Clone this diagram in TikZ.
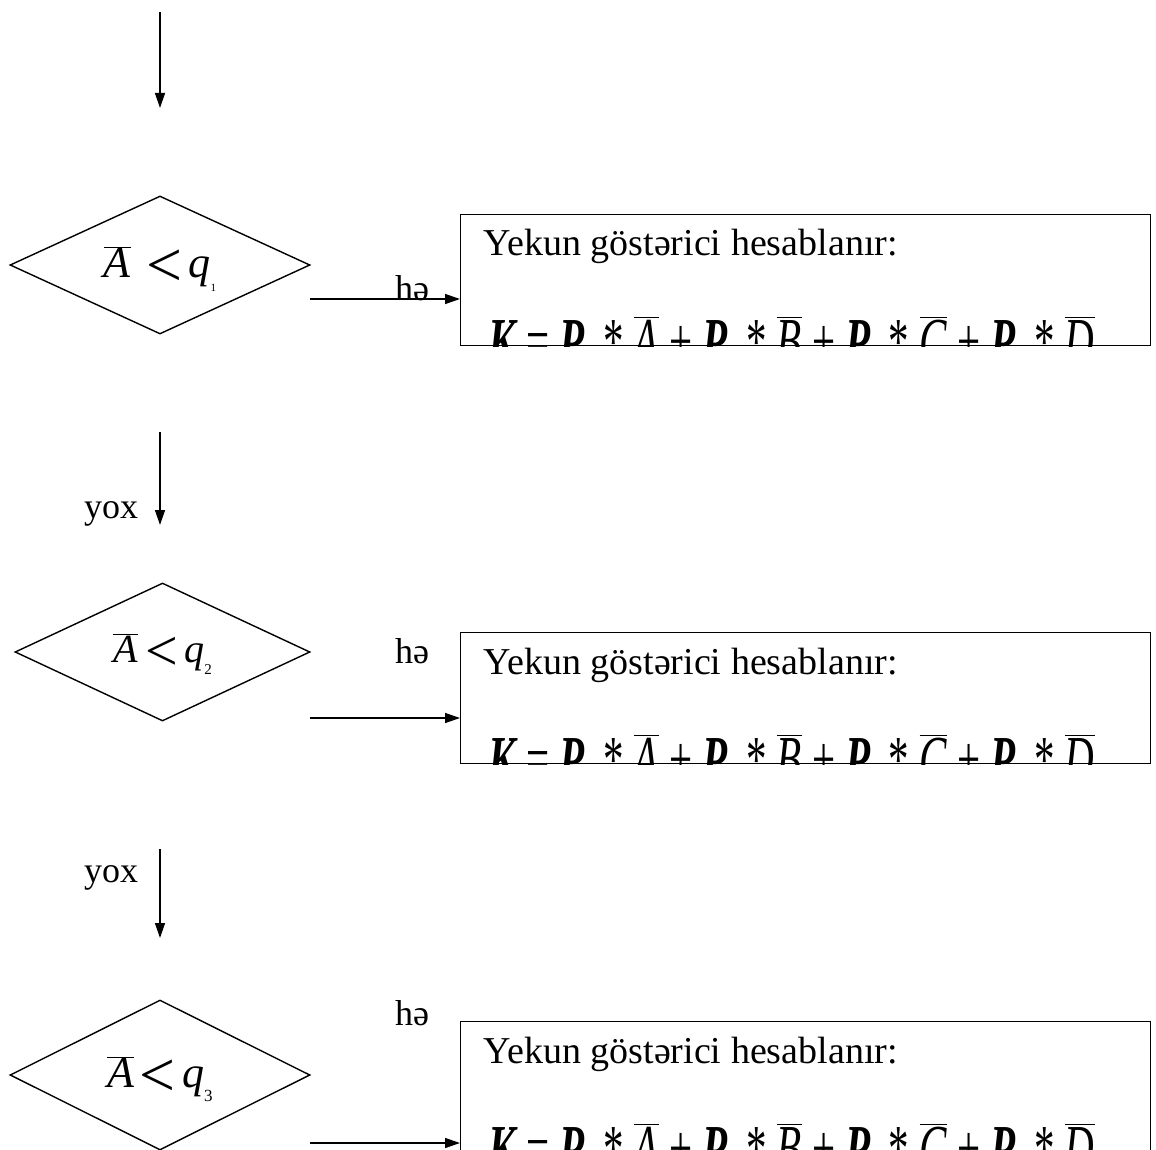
\documentclass[tikz,border=0pt]{standalone}
\usepackage{fontspec}
\setmainfont{Liberation Serif}
\usepackage{graphicx}
\usetikzlibrary{shapes.geometric,arrows.meta}
\newcommand\ovl[1]{$\overline{\hbox{\itshape #1}}$}
\newcommand\bi[1]{{\bfseries\itshape #1}}
\newcommand\myformula{\scalebox{1}[1.6]{\bi{K} = \bi{P}\hspace{0.45em}* \ovl{A} + \bi{P}\hspace{0.45em}* \ovl{B} + \bi{P}\hspace{0.45em}* \ovl{C} + \bi{P}\hspace{0.45em}* \ovl{D}}}
\newcommand\cond[4]{\fontsize{#1}{#1}\selectfont\ovl{A}\hspace{#4}\raisebox{-0.2em}{\scalebox{1.45}{<}}\hspace{0.15em}{\itshape q}\raisebox{-0.3em}{\fontsize{#2}{#2}\selectfont #3}}
\begin{document}
\begin{tikzpicture}[x=1pt,y=-1pt, line width=1.4pt,
  arr/.style={-{Triangle[length=15pt,width=10pt]}},
  dia/.style={diamond, draw, inner sep=0pt, minimum width=300pt, minimum height=138pt},
  res/.style={rectangle, draw, minimum width=690pt, minimum height=131pt, anchor=north west, inner sep=0pt},
  lbl/.style={font=\fontsize{36}{40}\selectfont, inner sep=0pt, anchor=base},
  ytxt/.style={font=\fontsize{38}{44}\selectfont, inner sep=0pt, anchor=base west},
  ftxt/.style={font=\fontsize{41}{48}\selectfont, inner sep=0pt, anchor=base west}]
\useasboundingbox (0,0) rectangle (1156,1150);
\clip (0,0) rectangle (1156,1150);

% diamonds
\node[dia] (d1) at (160,265) {};
\node[dia, minimum width=295pt] (d2) at (162.5,652) {};
\node[dia, minimum height=150pt] (d3) at (160,1075) {};
\node[inner sep=0pt] (d1t) at ([yshift=-4pt]d1.center) {\cond{44}{11}{1}{0.35em}};
\node[inner sep=0pt] (d2t) at ([yshift=-2pt]d2.center) {\cond{40}{15}{2}{0.2em}};
\node[inner sep=0pt] (d3t) at ([yshift=-4pt]d3.center) {\cond{44}{17}{3}{0.12em}};

% boxes
\node[res] (b1) at (460,214) {};
\node[res] (b2) at (460,632) {};
\node[res] (b3) at (460,1021) {};

\foreach \b in {b1,b2,b3}{
  \node[ytxt] (\b t) at ([xshift=23pt,yshift=-42pt]\b.north west) {Yekun göstərici hesablanır:};
  \begin{scope}
    \clip (\b.north west) rectangle (\b.south east);
    \node[ftxt] (\b f) at ([xshift=28pt,yshift=-149pt]\b.north west) {\myformula};
  \end{scope}
}

% vertical arrows
\coordinate (s0) at (160,12);  \coordinate (e0) at (160,108);
\coordinate (s1) at (160,432); \coordinate (e1) at (160,525);
\coordinate (s2) at (160,849); \coordinate (e2) at (160,938);
\draw[arr] (s0) -- (e0);
\draw[arr] (s1) -- (e1);
\draw[arr] (s2) -- (e2);
\node[lbl] (y1) at (111,518) {yox};
\node[lbl] (y2) at (111,882) {yox};

% horizontal arrows
\coordinate (h1) at (310,299);
\coordinate (h2) at (310,718);
\coordinate (h3) at (310,1143);
\draw[arr] (h1) -- (h1 -| b1.west);
\draw[arr] (h2) -- (h2 -| b2.west);
\draw[arr] (h3) -- (h3 -| b3.west);
\node[lbl] (he1) at (412,300) {hə};
\node[lbl] (he2) at (412,663) {hə};
\node[lbl] (he3) at (412,1025) {hə};
\end{tikzpicture}
\end{document}
